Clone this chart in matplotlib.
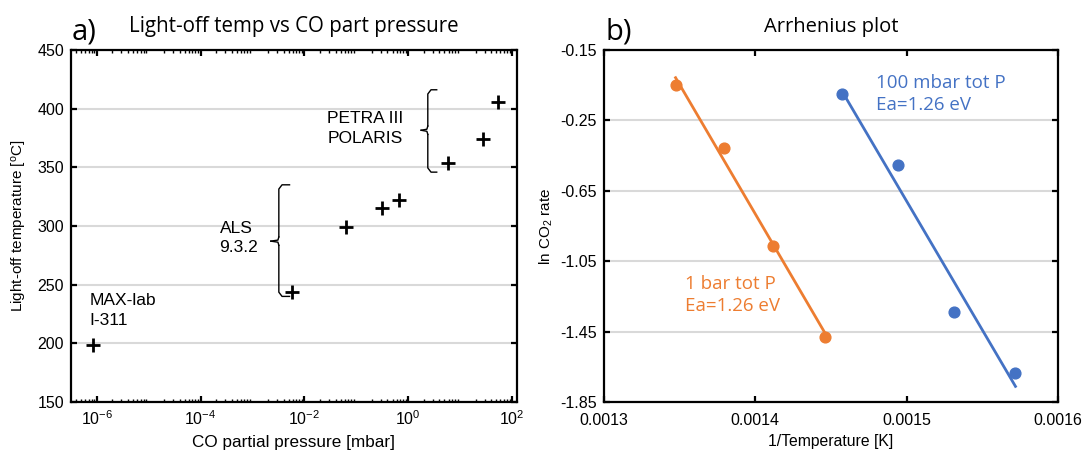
import numpy as np
import matplotlib
matplotlib.use('Agg')
import matplotlib.pyplot as plt
from matplotlib.ticker import FixedLocator, FixedFormatter, LogLocator, NullFormatter

plt.rcParams['font.family'] = ['Liberation Sans', 'DejaVu Sans']
plt.rcParams['mathtext.fontset'] = 'custom'
plt.rcParams['mathtext.rm'] = 'Liberation Sans'
plt.rcParams['mathtext.it'] = 'Liberation Sans:italic'

# Panel a) light-off temperature vs CO partial pressure
co_pressure = [8.5e-7, 5.8e-3, 0.063, 0.32, 0.66, 5.8, 28, 53]
lightoff_temp = [199, 244, 299, 315, 322, 354, 374, 406]

# Panel b) Arrhenius data
inv_T_1bar = [0.0013473, 0.0013790, 0.0014120, 0.0014463]
ln_rate_1bar = [-0.049, -0.409, -0.964, -1.479]
inv_T_100mbar = [0.0014573, 0.0014941, 0.0015310, 0.0015719]
ln_rate_100mbar = [-0.102, -0.505, -1.337, -1.687]

b_yticks = [0.15, -0.25, -0.65, -1.05, -1.45, -1.85]
b_yticklabels = ['-0.15', '-0.25', '-0.65', '-1.05', '-1.45', '-1.85']
b_xticks = [0.0013, 0.0014, 0.0015, 0.0016]

orange = '#ED7D31'
blue = '#4472C4'
grid_col = '#d9d9d9'
title_font = ['Open Sans', 'DejaVu Sans']

fig = plt.figure(figsize=(10.83, 4.53), dpi=100)
W, H = 1083, 453
ax1 = fig.add_axes([71 / W, 1 - 402 / H, (517 - 71) / W, (402 - 50) / H])
ax2 = fig.add_axes([604 / W, 1 - 402 / H, (1058 - 604) / W, (402 - 50) / H])

for ax in (ax1, ax2):
    for s in ax.spines.values():
        s.set_linewidth(1.6)
    ax.tick_params(direction='in', which='both', top=True, right=True,
                   labelsize=11.5, width=1.6, length=4, pad=5)
    ax.tick_params(which='minor', length=2, width=1)
    ax.set_axisbelow(True)

# ---- panel a
ax1.scatter(co_pressure, lightoff_temp, marker='+', s=90, color='black', linewidths=2, zorder=3)
ax1.set_xscale('log')
ax1.set_xlim(3.2e-7, 125)
ax1.set_ylim(150, 450)
ax1.set_yticks([150, 200, 250, 300, 350, 400, 450])
ax1.set_xticks([1e-6, 1e-4, 1e-2, 1, 1e2])
ax1.xaxis.set_minor_locator(LogLocator(base=10, subs=np.arange(2, 10), numticks=20))
ax1.xaxis.set_minor_formatter(NullFormatter())
ax1.yaxis.grid(True, color=grid_col, linewidth=1.5)
ax1.set_xlabel('CO partial pressure [mbar]', fontsize=12.3, labelpad=5)
ax1.set_ylabel(r'Light-off temperature [$^{\rm o}$C]', fontsize=11, labelpad=6)
ax1.set_title('Light-off temp vs CO part pressure', fontsize=14.8, family=title_font, pad=13)
fig.text(72 / W, 1 - 40 / H, 'a)', fontsize=21, family=title_font)


def brace(ax, x_tip, x_spine, x_end, y_lo, y_hi, y_mid):
    # curly bracket in axes fraction coordinates, opening to the right
    r = 0.012
    kw = dict(transform=ax.transAxes, color='black', linewidth=1.0, clip_on=False)
    ax.plot([x_end, x_spine + r * 0.6, x_spine, x_spine],
            [y_hi, y_hi, y_hi - r, y_mid + r], **kw)
    ax.plot([x_spine, x_spine - 0.002, x_tip], [y_mid + r, y_mid + 0.003, y_mid], **kw)
    ax.plot([x_tip, x_spine - 0.002, x_spine], [y_mid, y_mid - 0.003, y_mid - r], **kw)
    ax.plot([x_spine, x_spine, x_spine + r * 0.6, x_end],
            [y_mid - r, y_lo + r, y_lo, y_lo], **kw)


brace(ax1, 0.785, 0.800, 0.820, 0.653, 0.887, 0.772)
brace(ax1, 0.448, 0.466, 0.490, 0.300, 0.617, 0.457)
ax1.text(0.575, 0.777, 'PETRA III\nPOLARIS', transform=ax1.transAxes, fontsize=12.5,
         va='center', ha='left', linespacing=1.4)
ax1.text(0.333, 0.466, 'ALS\n9.3.2', transform=ax1.transAxes, fontsize=12.5,
         va='center', ha='left', linespacing=1.4)
ax1.text(0.042, 0.259, 'MAX-lab\nI-311', transform=ax1.transAxes, fontsize=12.5,
         va='center', ha='left', linespacing=1.4)

# ---- panel b
for xs, ys, col in ((inv_T_1bar, ln_rate_1bar, orange), (inv_T_100mbar, ln_rate_100mbar, blue)):
    xs = np.array(xs)
    p = np.polyfit(xs, ys, 1)
    ax2.plot(xs, np.polyval(p, xs), color=col, linewidth=2, zorder=2)
    ax2.scatter(xs, ys, s=60, color=col, zorder=3)

ax2.set_xlim(0.0013, 0.0016)
ax2.set_ylim(-1.85, 0.15)
ax2.xaxis.set_major_locator(FixedLocator(b_xticks))
ax2.xaxis.set_major_formatter(FixedFormatter([f'{v:.4f}' for v in b_xticks]))
ax2.yaxis.set_major_locator(FixedLocator(b_yticks))
ax2.yaxis.set_major_formatter(FixedFormatter(b_yticklabels))
ax2.tick_params(axis='x', pad=8)
ax2.yaxis.grid(True, color=grid_col, linewidth=1.5)
ax2.set_xlabel('1/Temperature [K]', fontsize=11.3, labelpad=4)
ax2.set_ylabel(r'ln CO$_2$ rate', fontsize=11, labelpad=4)
ax2.set_title('Arrhenius plot', fontsize=14.5, family=title_font, pad=13)
fig.text(605 / W, 1 - 40 / H, 'b)', fontsize=21, family=title_font)

ax2.text(0.178, 0.304, '1 bar tot P\nEa=1.26 eV', transform=ax2.transAxes, color=orange,
         fontsize=13.5, family=title_font, va='center', ha='left', linespacing=1.3)
ax2.text(0.599, 0.875, '100 mbar tot P\nEa=1.26 eV', transform=ax2.transAxes, color=blue,
         fontsize=13.5, family=title_font, va='center', ha='left', linespacing=1.3)

fig.savefig('out.png', dpi=100)
